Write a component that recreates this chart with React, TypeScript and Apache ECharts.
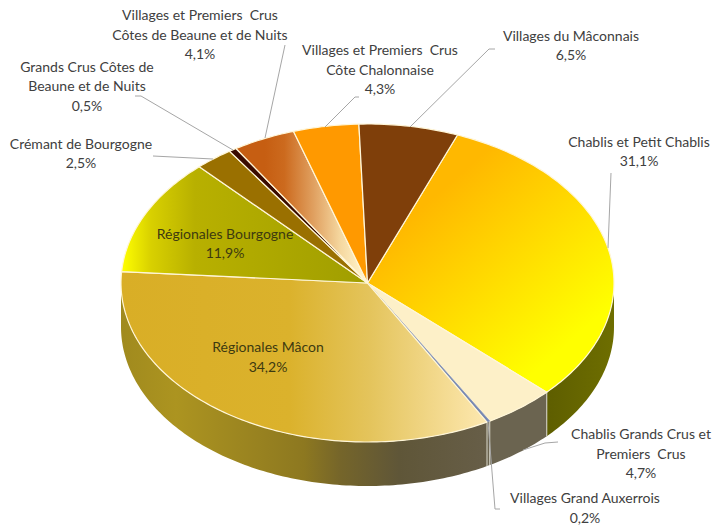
import React, { useEffect, useRef } from "react";
import * as echarts from "echarts";

const categories = [
  "Chablis et Petit Chablis",
  "Chablis Grands Crus et\nPremiers  Crus",
  "Villages Grand Auxerrois",
  "Régionales Mâcon",
  "Régionales Bourgogne",
  "Crémant de Bourgogne",
  "Grands Crus Côtes de\nBeaune et de Nuits",
  "Villages et Premiers  Crus\nCôtes de Beaune et de Nuits",
  "Villages et Premiers  Crus\nCôte Chalonnaise",
  "Villages du Mâconnais",
];
const shares = [31.1, 4.7, 0.2, 34.2, 11.9, 2.5, 0.5, 4.1, 4.3, 6.5];

const CX = 367.5, CY = 283, RX = 246.5, RY = 159, DEPTH = 44, START = 21.4;
const EDGE = "#FFF6D8";
const LINE_H = 19.5;

const hGrad = (x0: number, x2: number, stops: [number, string][]) => ({
  type: "linear", x: x0, y: 0, x2, y2: 0, global: true,
  colorStops: stops.map(([offset, color]) => ({ offset, color })),
});

const topFills: any[] = [
  { type: "linear", x: 430, y: 200, x2: 560, y2: 350, global: true,
    colorStops: [{ offset: 0, color: "#FFB800" }, { offset: 1, color: "#FFFF00" }] },
  "#FDF0C8",
  "#7486B0",
  hGrad(121, 487, [[0, "#D9AE26"], [0.46, "#DBB22C"], [0.68, "#E4C45C"], [1, "#FDE8B0"]]),
  hGrad(122, 365, [[0, "#FFFF00"], [0.12, "#D8D000"], [0.3, "#B8B000"], [1, "#A09E00"]]),
  "#9A7000",
  "#3A0B00",
  hGrad(265, 362, [[0, "#C65E12"], [0.2, "#CC6A1E"], [0.5, "#E0A060"], [0.78, "#F5D8A0"], [1, "#FFF2C8"]]),
  "#FF9900",
  "#7F3F0A",
];
const wallFills: any[] = [
  hGrad(547, 614, [[0, "#5E5E00"], [1, "#6E6E00"]]),
  "#6B6450",
  "#6B6450",
  hGrad(121, 487, [[0, "#A08A1E"], [0.15, "#AC9420"], [0.5, "#8D7820"], [0.6, "#75652A"], [0.76, "#5F5638"], [1, "#675E48"]]),
];

const leaders: number[][][] = [
  [[611, 173], [608, 248]],
  [[558, 442], [545, 443], [523, 450]],
  [[500, 509], [495, 509], [488, 422]],
  [[153, 156], [213, 159]],
  [[135, 96], [141, 96], [233, 150]],
  [[285, 45], [265, 138]],
  [[359, 97], [355, 97], [325, 127]],
  [[495, 49], [489, 49], [410, 127]],
];
const labelCenters: number[][] = [
  [639, 151], [641, 453], [585, 507.5], [268, 356.5], [225, 243],
  [81, 153], [87, 85.5], [200, 34], [380, 69], [571, 45],
];
const innerLabels = [3, 4];

const pt = (deg: number, dy = 0): number[] => {
  const r = (deg * Math.PI) / 180;
  return [CX + RX * Math.sin(r), CY - RY * Math.cos(r) + dy];
};
const arc = (a0: number, a1: number, dy = 0): number[][] => {
  const out: number[][] = [];
  const n = Math.max(2, Math.ceil(Math.abs(a1 - a0)));
  for (let k = 0; k <= n; k++) out.push(pt(a0 + ((a1 - a0) * k) / n, dy));
  return out;
};
const total = shares.reduce((s, v) => s + v, 0);
const bounds = (i: number): [number, number] => {
  const before = shares.slice(0, i).reduce((s, v) => s + v, 0);
  return [START + (before / total) * 360, START + ((before + shares[i]) / total) * 360];
};
const fmt = (v: number) => v.toFixed(1).replace(".", ",") + "%";

export default function App() {
  const ref = useRef<HTMLDivElement>(null);
  useEffect(() => {
    const chart = echarts.init(ref.current!, null, { renderer: "svg" });
    const graphic: any[] = [];
    leaders.forEach((points) => {
      graphic.push({
        type: "polyline", z: 5, shape: { points },
        style: { stroke: "#A6A6A6", lineWidth: 1, fill: "none" },
      });
    });
    categories.forEach((name, i) => {
      const lines = `${name}\n${fmt(shares[i])}`.split("\n");
      lines.forEach((line, k) => {
        graphic.push({
          type: "text", z: 6, x: labelCenters[i][0],
          y: labelCenters[i][1] + (k - (lines.length - 1) / 2) * LINE_H,
          style: {
            text: line,
            font: "14px Lato",
            fill: innerLabels.includes(i) ? "#3D3A10" : "#404040",
            align: "center", verticalAlign: "middle",
          },
        });
      });
    });
    chart.setOption({
      animation: false,
      backgroundColor: "#fff",
      graphic,
      series: [
        {
          type: "custom", coordinateSystem: "none", silent: true, z: 1,
          data: shares.map((v) => [v]),
          renderItem: (params: any) => {
            const i = params.dataIndex;
            const [a0, a1] = bounds(i);
            const s = Math.max(a0, 90), e = Math.min(a1, 270);
            if (e <= s) return { type: "group", children: [] };
            const top = arc(s, e);
            const bot = arc(e, s, DEPTH);
            const children: any[] = [{
              type: "polygon", shape: { points: top.concat(bot) },
              style: { fill: wallFills[Math.min(i, wallFills.length - 1)], stroke: null },
            }];
            if (s > 90) {
              const p = pt(s);
              children.push({
                type: "line", shape: { x1: p[0], y1: p[1], x2: p[0], y2: p[1] + DEPTH },
                style: { stroke: "#C9C7B8", lineWidth: 1.2 },
              });
            }
            return { type: "group", children };
          },
        },
        {
          type: "custom", coordinateSystem: "none", silent: true, z: 2,
          data: shares.map((v) => [v]),
          renderItem: (params: any) => {
            const i = params.dataIndex;
            const [a0, a1] = bounds(i);
            return {
              type: "polygon",
              shape: { points: [[CX, CY]].concat(arc(a0, a1)) },
              style: { fill: topFills[i], stroke: i === 2 ? "#8A98BC" : EDGE, lineWidth: i === 2 ? 0.8 : 1.2, lineJoin: "round" },
            };
          },
        },
      ],
    });
    return () => chart.dispose();
  }, []);
  return <div ref={ref} style={{ position: "absolute", left: 0, top: 0, width: 713, height: 526 }} />;
}
